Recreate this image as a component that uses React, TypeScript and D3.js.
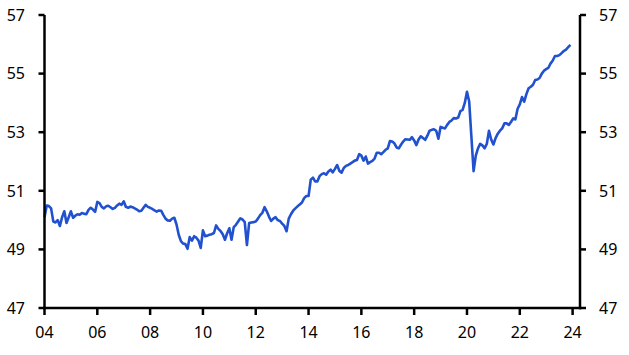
import React from "react";
import * as d3 from "d3";

// Monthly series, Jan 2004 – Dec 2023
const startYear = 2004;
const values: number[] = [
  // 2004
  50.1, 50.5, 50.48, 50.4, 49.95, 49.92, 50.0, 49.8, 50.1, 50.3, 49.9, 50.1,
  // 2005
  50.3, 50.08, 50.15, 50.2, 50.18, 50.24, 50.22, 50.2, 50.35, 50.42, 50.36, 50.28,
  // 2006
  50.62, 50.58, 50.45, 50.4, 50.47, 50.49, 50.44, 50.38, 50.42, 50.5, 50.56, 50.52,
  // 2007
  50.64, 50.45, 50.42, 50.46, 50.44, 50.4, 50.36, 50.3, 50.32, 50.42, 50.52, 50.45,
  // 2008
  50.42, 50.38, 50.33, 50.29, 50.33, 50.32, 50.18, 50.05, 49.99, 49.98, 50.05, 50.08,
  // 2009
  49.85, 49.5, 49.28, 49.2, 49.18, 49.02, 49.42, 49.3, 49.45, 49.4, 49.3, 49.05,
  // 2010
  49.65, 49.45, 49.47, 49.5, 49.52, 49.56, 49.82, 49.7, 49.63, 49.52, 49.33, 49.55,
  // 2011
  49.72, 49.33, 49.76, 49.84, 49.95, 50.06, 50.02, 49.93, 49.15, 49.9, 49.92, 49.93,
  // 2012
  49.95, 50.05, 50.17, 50.25, 50.44, 50.3, 50.12, 49.97, 50.05, 50.1, 50.0, 49.97,
  // 2013
  49.88, 49.8, 49.62, 50.05, 50.2, 50.32, 50.4, 50.47, 50.53, 50.6, 50.75, 50.82,
  // 2014
  50.82, 51.38, 51.45, 51.32, 51.32, 51.5, 51.57, 51.6, 51.55, 51.66, 51.72, 51.63,
  // 2015
  51.75, 51.88, 51.68, 51.62, 51.78, 51.85, 51.88, 51.93, 51.98, 52.03, 52.05, 52.25,
  // 2016
  52.2, 52.03, 52.17, 51.93, 51.98, 52.02, 52.1, 52.3, 52.3, 52.25, 52.32, 52.4,
  // 2017
  52.45, 52.7, 52.68, 52.62, 52.48, 52.45, 52.57, 52.68, 52.76, 52.75, 52.74, 52.83,
  // 2018
  52.72, 52.56, 52.75, 52.86, 52.8, 52.74, 52.88, 53.05, 53.08, 53.1, 53.05, 52.78,
  // 2019
  53.18, 53.15, 53.13, 53.25, 53.35, 53.4, 53.48, 53.47, 53.5, 53.72, 53.76, 54.0,
  // 2020
  54.38, 54.05, 52.85, 51.67, 52.2, 52.45, 52.6, 52.55, 52.45, 52.6, 53.05, 52.75,
  // 2021
  52.58, 52.8, 52.95, 53.05, 53.13, 53.3, 53.3, 53.25, 53.35, 53.47, 53.44, 53.8,
  // 2022
  53.95, 54.2, 54.04, 54.3, 54.5, 54.55, 54.62, 54.78, 54.8, 54.85, 55.0, 55.1,
  // 2023
  55.15, 55.2, 55.35, 55.45, 55.6, 55.6, 55.63, 55.7, 55.77, 55.82, 55.9, 55.98,
];

const yTicks = [47, 49, 51, 53, 55, 57];
const xTickYears = [2004, 2006, 2008, 2010, 2012, 2014, 2016, 2018, 2020, 2022, 2024];
const xTickLabels = ["04", "06", "08", "10", "12", "14", "16", "18", "20", "22", "24"];

const W = 629;
const H = 355;
const left = 44.5;
const right = 580;
const top = 15;
const bottom = 308;

export default function App() {
  const x = d3.scaleLinear().domain([2004, 2024.28]).range([left, right]);
  const y = d3.scaleLinear().domain([47, 57]).range([bottom, top]);
  const pts = values.map((v, i) => [startYear + i / 12, v] as [number, number]);
  const line = d3
    .line<[number, number]>()
    .x((d) => x(d[0]))
    .y((d) => y(d[1]));
  const font = "'Noto Sans', 'Open Sans', sans-serif";
  return (
    <svg
      width={W}
      height={H}
      style={{ position: "absolute", left: 0, top: 0, background: "#fff" }}
    >
      <path d={line(pts) || ""} fill="none" stroke="#2151cf" strokeWidth={2.6} strokeLinejoin="round" />
      {/* axes */}
      <line x1={left} x2={left} y1={top} y2={bottom + 1.2} stroke="#000" strokeWidth={2.5} />
      <line x1={right} x2={right} y1={top} y2={bottom + 1.2} stroke="#000" strokeWidth={2.5} />
      <line x1={left - 1.2} x2={right + 1.2} y1={bottom} y2={bottom} stroke="#000" strokeWidth={2.5} />
      {yTicks.map((t) => (
        <g key={t}>
          <line x1={left - 6} x2={left} y1={y(t)} y2={y(t)} stroke="#000" strokeWidth={2.5} />
          <line x1={right} x2={right + 6} y1={y(t)} y2={y(t)} stroke="#000" strokeWidth={2.5} />
          <text x={25} y={y(t)} dy="0.36em" textAnchor="end" fontFamily={font} fontSize={16} fill="#000">
            {t}
          </text>
          <text x={599} y={y(t)} dy="0.36em" textAnchor="start" fontFamily={font} fontSize={16} fill="#000">
            {t}
          </text>
        </g>
      ))}
      {xTickYears.map((yr, i) => (
        <g key={yr}>
          <line x1={x(yr)} x2={x(yr)} y1={bottom} y2={bottom + 7} stroke="#000" strokeWidth={2.5} />
          <text x={x(yr)} y={338} textAnchor="middle" fontFamily={font} fontSize={16} fill="#000">
            {xTickLabels[i]}
          </text>
        </g>
      ))}
    </svg>
  );
}
